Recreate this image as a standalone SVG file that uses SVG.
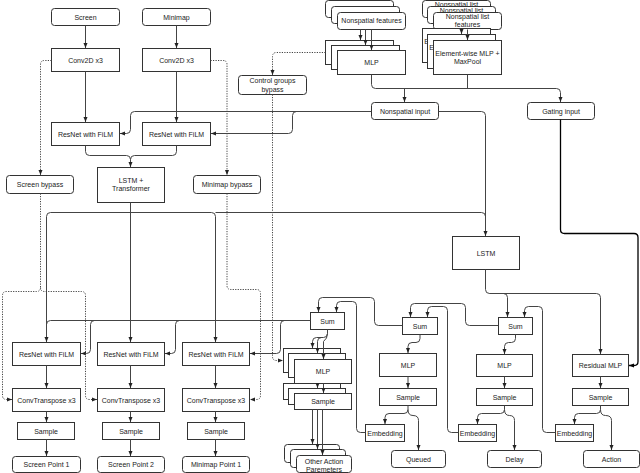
<svg xmlns="http://www.w3.org/2000/svg" width="640" height="473" viewBox="0 0 640 473">
<style>
.b{fill:#fff;stroke:#333;stroke-width:1}
.t{font-family:"Liberation Sans",Arial,sans-serif;font-size:7px;fill:#222;text-anchor:middle}
.c{fill:none;stroke:#444;stroke-width:1;marker-end:url(#a)}
.n{fill:none;stroke:#444;stroke-width:1}
.d{fill:none;stroke:#444;stroke-width:1;stroke-dasharray:1.2 1.3;marker-end:url(#a)}
.g{fill:none;stroke:#000;stroke-width:1.3;marker-end:url(#ak)}
</style>
<defs>
<marker id="a" viewBox="0 0 10 10" refX="10" refY="5" markerWidth="5" markerHeight="5" markerUnits="userSpaceOnUse" orient="auto"><path d="M0,1 L10,5 L0,9 z" fill="#222"/></marker>
<marker id="ak" viewBox="0 0 10 10" refX="10" refY="5" markerWidth="5" markerHeight="5" markerUnits="userSpaceOnUse" orient="auto"><path d="M0,1 L10,5 L0,9 z" fill="#000"/></marker>
</defs>

<g id="screen"><rect class="b" x="51.5" y="8.5" width="68" height="17" rx="3"/><text class="t" x="85.5" y="19.5">Screen</text></g>
<g id="minimap"><rect class="b" x="142.5" y="8.5" width="68" height="17" rx="3"/><text class="t" x="176.5" y="19.5">Minimap</text></g>
<g id="conv-screen"><rect class="b" x="51.5" y="48.5" width="68" height="23"/><text class="t" x="85.5" y="62.5">Conv2D x3</text></g>
<g id="conv-minimap"><rect class="b" x="142.5" y="48.5" width="68" height="23"/><text class="t" x="176.5" y="62.5">Conv2D x3</text></g>
<g id="resnet-screen"><rect class="b" x="51.5" y="122.5" width="68" height="23"/><text class="t" x="85.5" y="136.5">ResNet with FiLM</text></g>
<g id="resnet-minimap"><rect class="b" x="142.5" y="122.5" width="68" height="23"/><text class="t" x="176.5" y="136.5">ResNet with FiLM</text></g>
<g id="lstm-transformer"><rect class="b" x="97.5" y="167.5" width="67" height="35"/><text class="t" x="131" y="183">LSTM +</text><text class="t" x="131" y="191">Transformer</text></g>
<g id="screen-bypass"><rect class="b" x="6.5" y="175.5" width="67" height="18" rx="3"/><text class="t" x="40" y="187">Screen bypass</text></g>
<g id="minimap-bypass"><rect class="b" x="193.5" y="175.5" width="67" height="18" rx="3"/><text class="t" x="227" y="187">Minimap bypass</text></g>
<g id="cg-bypass"><rect class="b" x="238.5" y="75.5" width="68" height="19" rx="3"/><text class="t" x="272.5" y="83.2">Control groups</text><text class="t" x="272.5" y="91.8">bypass</text></g>

<g id="nonspatial-features">
<rect class="b" x="325.5" y="0.5" width="68" height="17" rx="3"/>
<rect class="b" x="331.5" y="6.5" width="68" height="17" rx="3"/>
<rect class="b" x="337.5" y="12.5" width="68" height="17" rx="3"/>
<text class="t" x="371.5" y="23.3">Nonspatial features</text>
</g>
<g id="mlp-nonspatial">
<rect class="b" x="325.5" y="40.5" width="68" height="24"/>
<rect class="b" x="331.5" y="45.5" width="68" height="24"/>
<rect class="b" x="337.5" y="50.5" width="68" height="24"/>
<text class="t" x="371.5" y="65">MLP</text>
</g>
<g id="nonspatial-list">
<rect class="b" x="422.5" y="0.5" width="68" height="17" rx="3"/>
<text class="t" x="456.5" y="7.2">Nonspatial list</text><text class="t" x="456.5" y="14.8">features</text>
<rect class="b" x="427.5" y="6.5" width="68" height="17" rx="3"/>
<text class="t" x="461.5" y="13.2">Nonspatial list</text><text class="t" x="461.5" y="20.8">features</text>
<rect class="b" x="433.5" y="12.5" width="68" height="17" rx="3"/>
<text class="t" x="467.5" y="19.2">Nonspatial list</text><text class="t" x="467.5" y="26.8">features</text>
</g>
<g id="elementwise">
<rect class="b" x="422.5" y="28.5" width="68" height="34"/>
<text class="t" x="456.5" y="43.8">Element-wise MLP +</text><text class="t" x="456.5" y="51.5">MaxPool</text>
<rect class="b" x="427.5" y="34.5" width="68" height="34"/>
<text class="t" x="461.5" y="49.8">Element-wise MLP +</text><text class="t" x="461.5" y="57.5">MaxPool</text>
<rect class="b" x="433.5" y="40.5" width="68" height="34"/>
<text class="t" x="467.5" y="55.8">Element-wise MLP +</text><text class="t" x="467.5" y="63.5">MaxPool</text>
</g>
<g id="nonspatial-input"><rect class="b" x="371.5" y="102.5" width="67" height="17" rx="3"/><text class="t" x="405" y="113.5">Nonspatial input</text></g>
<g id="gating-input"><rect class="b" x="527.5" y="102.5" width="67" height="17" rx="3"/><text class="t" x="561" y="113.5">Gating input</text></g>
<g id="lstm"><rect class="b" x="452.5" y="236.5" width="67" height="33"/><text class="t" x="486" y="255.5">LSTM</text></g>

<g id="resnet-1"><rect class="b" x="12.5" y="342.5" width="68" height="23"/><text class="t" x="46.5" y="356.5">ResNet with FiLM</text></g>
<g id="convt-1"><rect class="b" x="12.5" y="388.5" width="68" height="23"/><text class="t" x="46.5" y="402.5">ConvTranspose x3</text></g>
<g id="sample-1"><rect class="b" x="17.5" y="422.5" width="57" height="17"/><text class="t" x="46" y="433.5">Sample</text></g>
<g id="screen-point-1"><rect class="b" x="12.5" y="456.5" width="68" height="16" rx="3"/><text class="t" x="46.5" y="467">Screen Point 1</text></g>

<g id="resnet-2"><rect class="b" x="97.5" y="342.5" width="67" height="23"/><text class="t" x="131" y="356.5">ResNet with FiLM</text></g>
<g id="convt-2"><rect class="b" x="97.5" y="388.5" width="67" height="23"/><text class="t" x="131" y="402.5">ConvTranspose x3</text></g>
<g id="sample-2"><rect class="b" x="102.5" y="422.5" width="57" height="17"/><text class="t" x="131" y="433.5">Sample</text></g>
<g id="screen-point-2"><rect class="b" x="97.5" y="456.5" width="67" height="16" rx="3"/><text class="t" x="131" y="467">Screen Point 2</text></g>

<g id="resnet-3"><rect class="b" x="182.5" y="342.5" width="67" height="23"/><text class="t" x="216" y="356.5">ResNet with FiLM</text></g>
<g id="convt-3"><rect class="b" x="182.5" y="388.5" width="67" height="23"/><text class="t" x="216" y="402.5">ConvTranspose x3</text></g>
<g id="sample-3"><rect class="b" x="187.5" y="422.5" width="57" height="17"/><text class="t" x="216" y="433.5">Sample</text></g>
<g id="minimap-point-1"><rect class="b" x="182.5" y="456.5" width="67" height="16" rx="3"/><text class="t" x="216" y="467">Minimap Point 1</text></g>

<g id="sum-1"><rect class="b" x="310.5" y="312.5" width="34" height="17"/><text class="t" x="327.5" y="323.5">Sum</text></g>
<g id="mlp-args">
<rect class="b" x="283.5" y="348.5" width="57" height="24"/>
<rect class="b" x="288.5" y="353.5" width="57" height="24"/>
<rect class="b" x="294.5" y="359.5" width="57" height="24"/>
<text class="t" x="323" y="374">MLP</text>
</g>
<g id="sample-args">
<rect class="b" x="283.5" y="383.5" width="57" height="16"/>
<rect class="b" x="288.5" y="388.5" width="57" height="16"/>
<rect class="b" x="294.5" y="393.5" width="57" height="16"/>
<text class="t" x="323" y="404">Sample</text>
</g>
<g id="other-action-params">
<rect class="b" x="284.5" y="444.5" width="55" height="18" rx="3"/>
<rect class="b" x="290.5" y="449.5" width="55" height="18" rx="3"/>
<rect class="b" x="296.5" y="455.5" width="55" height="17" rx="3"/>
<text class="t" x="324" y="464.2">Other Action</text><text class="t" x="324" y="471.5">Paremeters</text>
</g>

<g id="sum-2"><rect class="b" x="402.5" y="317.5" width="35" height="17"/><text class="t" x="420" y="328.5">Sum</text></g>
<g id="mlp-queued"><rect class="b" x="379.5" y="353.5" width="57" height="23"/><text class="t" x="408" y="367.5">MLP</text></g>
<g id="sample-queued"><rect class="b" x="379.5" y="388.5" width="57" height="17"/><text class="t" x="408" y="399.5">Sample</text></g>
<g id="embedding-queued"><rect class="b" x="365.5" y="424.5" width="39" height="17"/><text class="t" x="385" y="435.5">Embedding</text></g>
<g id="queued"><rect class="b" x="391.5" y="450.5" width="54" height="17" rx="3"/><text class="t" x="418.5" y="461.5">Queued</text></g>

<g id="sum-3"><rect class="b" x="498.5" y="317.5" width="34" height="17"/><text class="t" x="515.5" y="328.5">Sum</text></g>
<g id="mlp-delay"><rect class="b" x="476.5" y="354.5" width="56" height="22"/><text class="t" x="504.5" y="368">MLP</text></g>
<g id="sample-delay"><rect class="b" x="476.5" y="388.5" width="56" height="17"/><text class="t" x="504.5" y="399.5">Sample</text></g>
<g id="embedding-delay"><rect class="b" x="458.5" y="424.5" width="38" height="17"/><text class="t" x="477.5" y="435.5">Embedding</text></g>
<g id="delay"><rect class="b" x="487.5" y="450.5" width="54" height="17" rx="3"/><text class="t" x="514.5" y="461.5">Delay</text></g>

<g id="residual-mlp"><rect class="b" x="572.5" y="354.5" width="56" height="22"/><text class="t" x="600.5" y="368">Residual MLP</text></g>
<g id="sample-action"><rect class="b" x="572.5" y="388.5" width="56" height="17"/><text class="t" x="600.5" y="399.5">Sample</text></g>
<g id="embedding-action"><rect class="b" x="555.5" y="424.5" width="38" height="17"/><text class="t" x="574.5" y="435.5">Embedding</text></g>
<g id="action"><rect class="b" x="583.5" y="450.5" width="56" height="17" rx="3"/><text class="t" x="611.5" y="461.5">Action</text></g>

<g id="connectors">
<path class="c" d="M85.5,25.5 V48"/>
<path class="c" d="M176.5,25.5 V48"/>
<path class="c" d="M85.5,71.5 V122"/>
<path class="c" d="M176.5,71.5 V122"/>
<path class="c" d="M85.5,145.5 V151.5 Q85.5,155.5 89.5,155.5 H126.5 Q130.5,155.5 130.5,159.5 V167"/>
<path class="n" d="M176.5,145.5 V151.5 Q176.5,155.5 172.5,155.5 H134.5 Q130.5,155.5 130.5,159.5"/>
<path class="d" d="M51.5,60.5 H44.5 Q40.5,60.5 40.5,64.5 V175"/>
<path class="d" d="M210.5,60.5 H223 Q227,60.5 227,64.5 V175"/>
<path class="d" d="M325.5,52.5 H276.5 Q272.5,52.5 272.5,56.5 V75"/>
<path class="c" d="M360.5,29.5 V40"/>
<path class="c" d="M365.5,29.5 V45"/>
<path class="c" d="M371.5,29.5 V50"/>
<path class="c" d="M461.5,29.5 V34"/>
<path class="c" d="M467.5,29.5 V40"/>
<path class="c" d="M371.5,74.5 V84.5 Q371.5,88.5 375.5,88.5 H556.5 Q560.5,88.5 560.5,92.5 V102"/>
<path class="n" d="M467.5,74.5 V88.5"/>
<path class="c" d="M404.5,88.5 V102"/>
<path class="c" d="M371.5,111.5 H134.5 Q130.5,111.5 130.5,115.5 V129.5 Q130.5,133.5 126.5,133.5 H120"/>
<path class="c" d="M296.5,111.5 Q292.5,111.5 292.5,115.5 V129.5 Q292.5,133.5 288.5,133.5 H211"/>
<path class="c" d="M438.5,111.5 H481.5 Q485.5,111.5 485.5,115.5 V236"/>
<path class="c" d="M130.5,202.5 V342"/>
<path class="c" d="M130.5,212.5 H50.5 Q46.5,212.5 46.5,216.5 V342"/>
<path class="c" d="M130.5,212.5 H211.5 Q215.5,212.5 215.5,216.5 V342"/>
<path class="n" d="M215.5,212.5 H481.5 Q485.5,212.5 485.5,216.5"/>
<path class="g" d="M560.5,119.5 V229.5 Q560.5,233.5 564.5,233.5 H634 Q638,233.5 638,237.5 V361.5 Q638,365.5 634,365.5 H629"/>
<path class="c" d="M485.5,269.5 V289.5 Q485.5,293.5 489.5,293.5 H503.5 Q507.5,293.5 507.5,297.5 V317"/>
<path class="c" d="M489.5,293.5 H596.5 Q600.5,293.5 600.5,297.5 V354"/>
<path class="c" d="M555.5,432.5 H546.5 Q542.5,432.5 542.5,428.5 V310.5 Q542.5,306.5 538.5,306.5 H528.5 Q524.5,306.5 524.5,310.5 V317"/>
<path class="c" d="M498.5,325.5 H469.5 Q465.5,325.5 465.5,321.5 V307.5 Q465.5,303.5 461.5,303.5 H414.5 Q410.5,303.5 410.5,307.5 V317"/>
<path class="c" d="M458.5,432.5 H451.5 Q447.5,432.5 447.5,428.5 V310.5 Q447.5,306.5 443.5,306.5 H431.5 Q427.5,306.5 427.5,310.5 V317"/>
<path class="c" d="M402.5,325.5 H378.5 Q374.5,325.5 374.5,321.5 V301.5 Q374.5,297.5 370.5,297.5 H322.5 Q318.5,297.5 318.5,301.5 V312"/>
<path class="c" d="M365.5,432.5 H360.5 Q356.5,432.5 356.5,428.5 V305.5 Q356.5,301.5 352.5,301.5 H340.5 Q336.5,301.5 336.5,305.5 V312"/>
<path class="n" d="M310.5,320.5 H50.5 Q46.5,320.5 46.5,324.5"/>
<path class="c" d="M94.5,320.5 Q90.5,320.5 90.5,324.5 V349.5 Q90.5,353.5 86.5,353.5 H81"/>
<path class="c" d="M179.5,320.5 Q175.5,320.5 175.5,324.5 V349.5 Q175.5,353.5 171.5,353.5 H165"/>
<path class="c" d="M284.5,320.5 Q280.5,320.5 280.5,324.5 V349.5 Q280.5,353.5 276.5,353.5 H250"/>
<path class="c" d="M327.5,329.5 V333.5 Q327.5,337.5 323.5,337.5 H316.5 Q312.5,337.5 312.5,341.5 V348"/>
<path class="c" d="M321.5,337.5 Q317.5,337.5 317.5,341.5 V353"/>
<path class="c" d="M327.5,333.5 Q327.5,338.5 323.5,341.5 V359"/>
<path class="c" d="M317.5,383.5 V388"/>
<path class="c" d="M323.5,383.5 V393"/>
<path class="c" d="M312.5,409.5 V444"/>
<path class="c" d="M317.5,409.5 V449"/>
<path class="c" d="M322.5,409.5 V455"/>
<path class="d" d="M40.5,193.5 V287.5 Q40.5,291.5 36.5,291.5 H6.5 Q2.5,291.5 2.5,295.5 V395.5 Q2.5,399.5 6.5,399.5 H12"/>
<path class="d" d="M40.5,287.5 Q40.5,291.5 44.5,291.5 H81.5 Q85.5,291.5 85.5,295.5 V395.5 Q85.5,399.5 89.5,399.5 H97"/>
<path class="d" d="M227,193.5 V285.5 Q227,289.5 231,289.5 H256.5 Q260.5,289.5 260.5,293.5 V395.5 Q260.5,399.5 256.5,399.5 H250"/>
<path class="d" d="M272.5,94.5 V356.5 Q272.5,360.5 276.5,360.5 H283"/>
<path class="c" d="M46.5,365.5 V388"/>
<path class="c" d="M46.5,411.5 V422"/>
<path class="c" d="M46.5,439.5 V456"/>
<path class="c" d="M130.5,365.5 V388"/>
<path class="c" d="M130.5,411.5 V422"/>
<path class="c" d="M130.5,439.5 V456"/>
<path class="c" d="M215.5,365.5 V388"/>
<path class="c" d="M215.5,411.5 V422"/>
<path class="c" d="M215.5,439.5 V456"/>
<path class="c" d="M420,334.5 V338.5 Q420,342.5 416,342.5 H412 Q408,342.5 408,346.5 V353"/>
<path class="c" d="M408,376.5 V388"/>
<path class="c" d="M408,405.5 V409.5 Q408,413.5 404,413.5 H389 Q385,413.5 385,417.5 V424"/>
<path class="c" d="M408,409.5 Q408,415.5 413,415.5 Q418.5,415.5 418.5,420.5 V450"/>
<path class="c" d="M515.5,334.5 V338.5 Q515.5,342.5 511.5,342.5 H508.5 Q504.5,342.5 504.5,346.5 V354"/>
<path class="c" d="M504.5,376.5 V388"/>
<path class="c" d="M504.5,405.5 V409.5 Q504.5,413.5 500.5,413.5 H481.5 Q477.5,413.5 477.5,417.5 V424"/>
<path class="c" d="M504.5,409.5 Q504.5,415.5 509.5,415.5 Q514.5,415.5 514.5,420.5 V450"/>
<path class="c" d="M600.5,376.5 V388"/>
<path class="c" d="M600.5,405.5 V409.5 Q600.5,413.5 596.5,413.5 H578.5 Q574.5,413.5 574.5,417.5 V424"/>
<path class="c" d="M600.5,409.5 Q600.5,415.5 605.5,415.5 Q611.5,415.5 611.5,420.5 V450"/>
</g>
</svg>
